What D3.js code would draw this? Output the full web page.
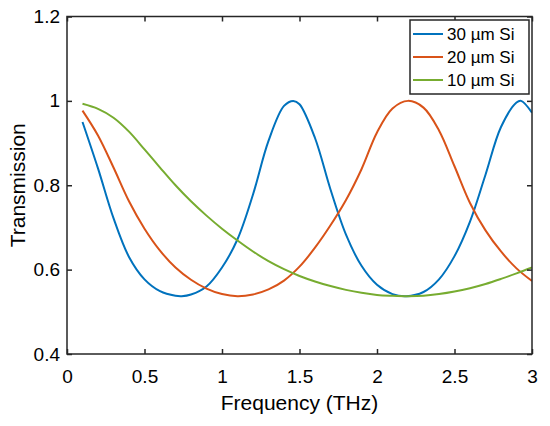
<!DOCTYPE html>
<html>
<head>
<meta charset="utf-8">
<script src="https://cdn.jsdelivr.net/npm/d3@7"></script>
<style>
  body { margin: 0; background: #fff; }
  svg text { font-family: "Liberation Sans", Arial, Helvetica, sans-serif; fill: #000; }
</style>
</head>
<body>
<div id="viz"></div>
<script>
// values
let freq30 = [0.1, 0.2, 0.3, 0.4, 0.5, 0.6, 0.7, 0.74, 0.8, 0.9, 1.0, 1.1, 1.2, 1.3, 1.4, 1.46, 1.5, 1.6, 1.7, 1.8, 1.9, 2.0, 2.1, 2.19, 2.3, 2.4, 2.5, 2.6, 2.7, 2.8, 2.9, 2.93, 3.0]
let trans30 = [0.950, 0.840, 0.722, 0.630, 0.577, 0.549, 0.538, 0.537, 0.541, 0.560, 0.605, 0.672, 0.778, 0.905, 0.988, 1.000, 0.992, 0.912, 0.790, 0.683, 0.609, 0.564, 0.542, 0.537, 0.547, 0.577, 0.632, 0.714, 0.825, 0.938, 0.996, 1.000, 0.972]

let freq20 = [0.1, 0.2, 0.3, 0.4, 0.5, 0.6, 0.7, 0.8, 0.9, 1.0, 1.1, 1.2, 1.3, 1.4, 1.5, 1.6, 1.7, 1.8, 1.9, 2.0, 2.1, 2.2, 2.3, 2.4, 2.5, 2.6, 2.7, 2.8, 2.9, 3.0]
let trans20 = [0.977, 0.918, 0.842, 0.762, 0.697, 0.645, 0.605, 0.576, 0.555, 0.542, 0.537, 0.541, 0.553, 0.574, 0.607, 0.652, 0.705, 0.765, 0.838, 0.925, 0.982, 1.000, 0.984, 0.930, 0.845, 0.758, 0.693, 0.643, 0.603, 0.573]

let freq10 = [0.1, 0.2, 0.3, 0.4, 0.5, 0.6, 0.7, 0.8, 0.9, 1.0, 1.1, 1.2, 1.3, 1.4, 1.5, 1.6, 1.7, 1.8, 1.9, 2.0, 2.1, 2.2, 2.3, 2.4, 2.5, 2.6, 2.7, 2.8, 2.9, 3.0]
let trans10 = [0.993, 0.981, 0.960, 0.927, 0.885, 0.842, 0.800, 0.762, 0.728, 0.697, 0.669, 0.643, 0.620, 0.601, 0.585, 0.572, 0.561, 0.552, 0.545, 0.540, 0.538, 0.537, 0.538, 0.542, 0.548, 0.556, 0.566, 0.578, 0.591, 0.605]

let seriesNames = ['30 \u00b5m Si', '20 \u00b5m Si', '10 \u00b5m Si']
let seriesColors = ['#0072BD', '#D95319', '#77AC30']
let xTicks = [0, 0.5, 1, 1.5, 2, 2.5, 3]
let yTicks = [0.4, 0.6, 0.8, 1, 1.2]

let series = [
  { name: seriesNames[0], color: seriesColors[0], f: freq30, t: trans30 },
  { name: seriesNames[1], color: seriesColors[1], f: freq20, t: trans20 },
  { name: seriesNames[2], color: seriesColors[2], f: freq10, t: trans10 }
]

let plotL = 67, plotR = 532, plotT = 16.5, plotB = 354

let svg = d3.select('#viz')
  .append('svg')
  .attr('width', 550)
  .attr('height', 426)

let x = d3.scaleLinear().domain([0, 3]).range([plotL, plotR])
let y = d3.scaleLinear().domain([0.4, 1.2]).range([plotB, plotT])

svg.append('clipPath').attr('id', 'plotClip')
  .append('rect')
  .attr('x', plotL).attr('y', plotT)
  .attr('width', plotR - plotL).attr('height', plotB - plotT)

let line = d3.line()
  .x(d => x(d[0]))
  .y(d => y(d[1]))
  .curve(d3.curveCatmullRom.alpha(0.5))

let plot = svg.append('g').attr('clip-path', 'url(#plotClip)')
series.forEach((s) => {
  let pts = s.f.map((f, i) => [f, s.t[i]])
  plot.append('path')
    .attr('d', line(pts))
    .attr('fill', 'none')
    .attr('stroke', s.color)
    .attr('stroke-width', 2)
})

// axes, ticks point inward on all four sides
let tickFont = 19
let xAxisB = svg.append('g')
  .attr('transform', `translate(0,${plotB})`)
  .call(d3.axisBottom(x).tickValues(xTicks).tickSizeInner(-5).tickSizeOuter(0).tickPadding(15.5)
    .tickFormat(d3.format('~g')))
let xAxisT = svg.append('g')
  .attr('transform', `translate(0,${plotT})`)
  .call(d3.axisTop(x).tickValues(xTicks).tickSizeInner(-5).tickSizeOuter(0).tickFormat(''))
let yAxisL = svg.append('g')
  .attr('transform', `translate(${plotL},0)`)
  .call(d3.axisLeft(y).tickValues(yTicks).tickSizeInner(-5).tickSizeOuter(0).tickPadding(7)
    .tickFormat(d3.format('~g')))
let yAxisR = svg.append('g')
  .attr('transform', `translate(${plotR},0)`)
  .call(d3.axisRight(y).tickValues(yTicks).tickSizeInner(-5).tickSizeOuter(0).tickFormat(''))

;[xAxisB, xAxisT, yAxisL, yAxisR].forEach((a) => {
  a.select('.domain').remove()
  a.selectAll('line').attr('stroke', '#262626').attr('stroke-width', 1.5)
  a.selectAll('text').attr('font-size', tickFont)
    .style('font-family', '"Liberation Sans", Arial, sans-serif').attr('fill', '#000')
})

svg.append('rect')
  .attr('x', plotL).attr('y', plotT)
  .attr('width', plotR - plotL).attr('height', plotB - plotT)
  .attr('fill', 'none')
  .attr('stroke', '#262626')
  .attr('stroke-width', 1.5)

// axis titles
svg.append('text')
  .attr('x', (plotL + plotR) / 2)
  .attr('y', 410)
  .attr('text-anchor', 'middle')
  .attr('font-size', 21)
  .text('Frequency (THz)')

svg.append('text')
  .attr('transform', `translate(25,${(plotT + plotB) / 2}) rotate(-90)`)
  .attr('text-anchor', 'middle')
  .attr('font-size', 21)
  .text('Transmission')

// legend
let legend = svg.append('g')
legend.append('rect')
  .attr('x', 410).attr('y', 20)
  .attr('width', 119).attr('height', 74)
  .attr('fill', '#fff')
  .attr('stroke', '#262626')
  .attr('stroke-width', 1.5)

let rowY = d3.scalePoint().domain(seriesNames).range([34, 80])
series.forEach((s) => {
  legend.append('line')
    .attr('x1', 413).attr('x2', 443)
    .attr('y1', rowY(s.name)).attr('y2', rowY(s.name))
    .attr('stroke', s.color)
    .attr('stroke-width', 2)
  legend.append('text')
    .attr('x', 447)
    .attr('y', rowY(s.name))
    .attr('dy', '0.36em')
    .attr('font-size', 17)
    .text(s.name)
})
</script>
</body>
</html>
